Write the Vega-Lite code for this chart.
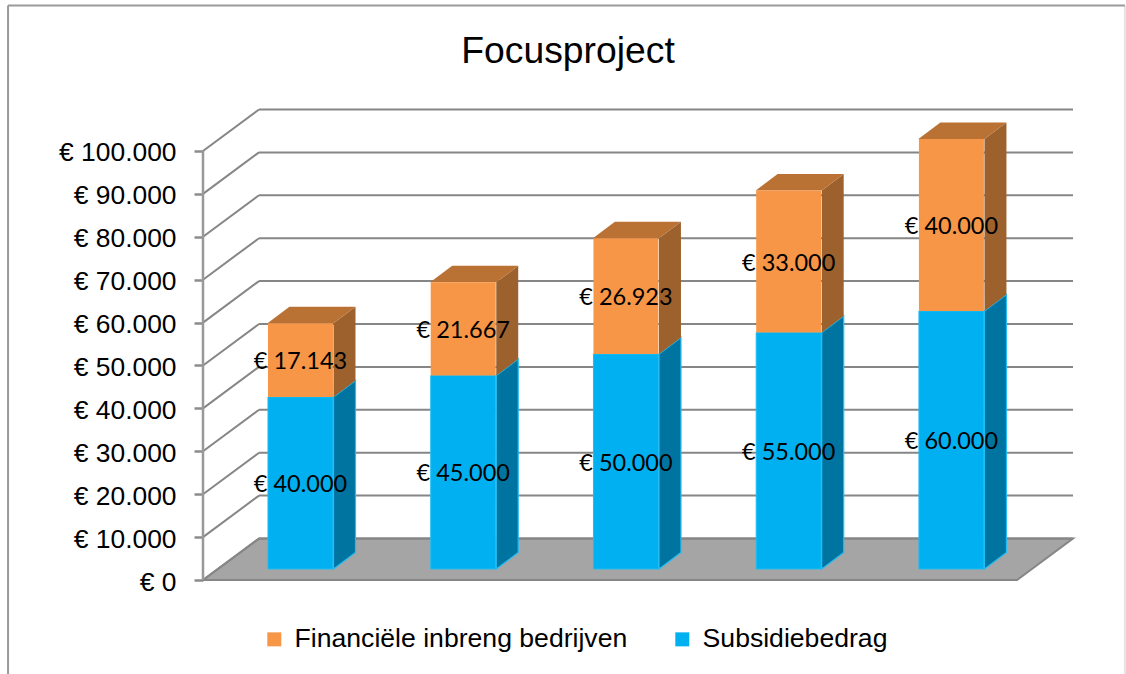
{
"$schema":"https://vega.github.io/schema/vega-lite/v6.json",
"width":870,"height":471,
"autosize":"none",
"padding":{"left":203,"top":109,"right":53,"bottom":94},
"background":"white",
"view":{"stroke":null},
"config":{"view":{"stroke":null},"font":"Liberation Sans"},
"title":{"text":"Focusproject","font":"Liberation Sans","fontSize":37.3,"fontWeight":"normal","color":"#000000","anchor":"middle","dx":-70,"offset":-67},
"datasets":{
"bars":[
{"slot":1,"series":"Subsidiebedrag","value":40000,"label":"€ 40.000"},
{"slot":2,"series":"Subsidiebedrag","value":45000,"label":"€ 45.000"},
{"slot":3,"series":"Subsidiebedrag","value":50000,"label":"€ 50.000"},
{"slot":4,"series":"Subsidiebedrag","value":55000,"label":"€ 55.000"},
{"slot":5,"series":"Subsidiebedrag","value":60000,"label":"€ 60.000"},
{"slot":1,"series":"Financiële inbreng bedrijven","value":17143,"label":"€ 17.143"},
{"slot":2,"series":"Financiële inbreng bedrijven","value":21667,"label":"€ 21.667"},
{"slot":3,"series":"Financiële inbreng bedrijven","value":26923,"label":"€ 26.923"},
{"slot":4,"series":"Financiële inbreng bedrijven","value":33000,"label":"€ 33.000"},
{"slot":5,"series":"Financiële inbreng bedrijven","value":40000,"label":"€ 40.000"}
],
"grid":[
{"v":0,"back":9674},{"v":10000,"back":19674},{"v":20000,"back":29674},{"v":30000,"back":39674},{"v":40000,"back":49674},{"v":50000,"back":59674},{"v":60000,"back":69674},{"v":70000,"back":79674},{"v":80000,"back":89674},{"v":90000,"back":99674},{"v":100000,"back":109674}
],
"floor":[{"y":0,"a":0.401,"b":5.403},{"y":9674,"a":0.745,"b":5.747}],
"sideBlue":[
{"slot":1,"x":1.203,"low":0,"high":40000},{"slot":1,"x":1.338,"low":3837,"high":43837},
{"slot":2,"x":2.203,"low":0,"high":45000},{"slot":2,"x":2.338,"low":3837,"high":48837},
{"slot":3,"x":3.203,"low":0,"high":50000},{"slot":3,"x":3.338,"low":3837,"high":53837},
{"slot":4,"x":4.203,"low":0,"high":55000},{"slot":4,"x":4.338,"low":3837,"high":58837},
{"slot":5,"x":5.203,"low":0,"high":60000},{"slot":5,"x":5.338,"low":3837,"high":63837}
],
"sideOrange":[
{"slot":1,"x":1.203,"low":40000,"high":57143},{"slot":1,"x":1.338,"low":43837,"high":60980},
{"slot":2,"x":2.203,"low":45000,"high":66667},{"slot":2,"x":2.338,"low":48837,"high":70504},
{"slot":3,"x":3.203,"low":50000,"high":76923},{"slot":3,"x":3.338,"low":53837,"high":80760},
{"slot":4,"x":4.203,"low":55000,"high":88000},{"slot":4,"x":4.338,"low":58837,"high":91837},
{"slot":5,"x":5.203,"low":60000,"high":100000},{"slot":5,"x":5.338,"low":63837,"high":103837}
],
"tops":[
{"slot":1,"y":57143,"a":0.797,"b":1.203},{"slot":1,"y":60980,"a":0.932,"b":1.338},
{"slot":2,"y":66667,"a":1.797,"b":2.203},{"slot":2,"y":70504,"a":1.932,"b":2.338},
{"slot":3,"y":76923,"a":2.797,"b":3.203},{"slot":3,"y":80760,"a":2.932,"b":3.338},
{"slot":4,"y":88000,"a":3.797,"b":4.203},{"slot":4,"y":91837,"a":3.932,"b":4.338},
{"slot":5,"y":100000,"a":4.797,"b":5.203},{"slot":5,"y":103837,"a":4.932,"b":5.338}
],
"frame":[{"x":-0.797,"x2":-0.797,"y":133916,"y2":-21911},{"x":-0.797,"x2":6.066,"y":133916,"y2":133916}],
"frameRight":[{"x":6.066,"x2":6.066,"y":133916,"y2":-21911}]
},
"resolve":{"scale":{"y":"independent"},"axis":{"y":"independent"}},
"layer":[
{"data":{"name":"frameRight"},"mark":{"type":"rule","strokeWidth":2,"stroke":"#e4e4e4"},
 "encoding":{"x":{"field":"x","type":"quantitative","scale":{"domain":[0.401,5.747],"nice":false,"zero":false,"padding":0},"axis":null},"x2":{"field":"x2"},
 "y":{"field":"y","type":"quantitative","scale":{"domain":[0,109790],"nice":false},"axis":null},"y2":{"field":"y2"}}},
{"data":{"name":"frame"},"mark":{"type":"rule","strokeWidth":2,"stroke":"#9a9a9a"},
 "encoding":{"x":{"field":"x","type":"quantitative","scale":{"domain":[0.401,5.747],"nice":false,"zero":false,"padding":0},"axis":null},"x2":{"field":"x2"},
 "y":{"field":"y","type":"quantitative","scale":{"domain":[0,109790],"nice":false},"axis":null},"y2":{"field":"y2"}}},
{"data":{"name":"floor"},"mark":{"type":"area","orient":"horizontal","fill":"#A5A5A5","stroke":"#868686","strokeWidth":2},
 "encoding":{"y":{"field":"y","type":"quantitative","stack":null,"scale":{"domain":[0,109790],"nice":false},"axis":null},
 "x":{"field":"a","type":"quantitative","scale":{"domain":[0.401,5.747],"nice":false,"zero":false,"padding":0},"axis":null},"x2":{"field":"b"}}},
{"data":{"name":"grid"},"mark":{"type":"rule","stroke":"#868686","strokeWidth":2},
 "encoding":{"x":{"datum":0.745,"type":"quantitative","scale":{"domain":[0.401,5.747],"nice":false,"zero":false,"padding":0},"axis":null},"x2":{"datum":5.747},
 "y":{"field":"back","type":"quantitative","scale":{"domain":[0,109790],"nice":false},"axis":null}}},
{"data":{"name":"grid"},"mark":{"type":"rule","stroke":"#868686","strokeWidth":2},
 "encoding":{"x":{"datum":0.401,"type":"quantitative","scale":{"domain":[0.401,5.747],"nice":false,"zero":false,"padding":0},"axis":null},"x2":{"datum":0.745},
 "y":{"field":"v","type":"quantitative","scale":{"domain":[0,109790],"nice":false},
  "axis":{"title":null,"orient":"left","domain":false,"grid":false,"values":[0,10000,20000,30000,40000,50000,60000,70000,80000,90000,100000],"tickSize":9,"tickWidth":2.5,"tickColor":"#8c8c8c","labelFont":"Liberation Sans","labelFontSize":26.4,"labelColor":"#000000","labelPadding":18,"labelOffset":2,"labelExpr":"'€ ' + replace(format(datum.value,',d'),',','.')"}},"y2":{"field":"back"}}},
{"data":{"values":[{"a":0,"b":100000}]},"mark":{"type":"rule","stroke":"#999999","strokeWidth":2.5},
 "encoding":{"x":{"datum":0.401,"type":"quantitative","scale":{"domain":[0.401,5.747],"nice":false,"zero":false,"padding":0},"axis":null},
 "y":{"field":"a","type":"quantitative","scale":{"domain":[0,109790],"nice":false},"axis":null},"y2":{"field":"b"}}},
{"data":{"name":"sideBlue"},"mark":{"type":"area","fill":"#0074A0","stroke":"#22BDF2","strokeWidth":1.2},
 "encoding":{"x":{"field":"x","type":"quantitative","scale":{"domain":[0.401,5.747],"nice":false,"zero":false,"padding":0},"axis":null},
 "y":{"field":"high","type":"quantitative","stack":null,"scale":{"domain":[0,100000],"range":[460,30],"nice":false},"axis":null},"y2":{"field":"low"},"detail":{"field":"slot"}}},
{"data":{"name":"sideOrange"},"mark":{"type":"area","fill":"#9C612D"},
 "encoding":{"x":{"field":"x","type":"quantitative","scale":{"domain":[0.401,5.747],"nice":false,"zero":false,"padding":0},"axis":null},
 "y":{"field":"high","type":"quantitative","stack":null,"scale":{"domain":[0,100000],"range":[460,30],"nice":false},"axis":null},"y2":{"field":"low"},"detail":{"field":"slot"}}},
{"data":{"name":"tops"},"mark":{"type":"area","orient":"horizontal","fill":"#BA7234"},
 "encoding":{"y":{"field":"y","type":"quantitative","stack":null,"scale":{"domain":[0,100000],"range":[460,30],"nice":false},"axis":null},
 "x":{"field":"a","type":"quantitative","scale":{"domain":[0.401,5.747],"nice":false,"zero":false,"padding":0},"axis":null},"x2":{"field":"b"},"detail":{"field":"slot"}}},
{"data":{"name":"bars"},"mark":{"type":"bar","width":65},
 "encoding":{"x":{"field":"slot","type":"quantitative","scale":{"domain":[0.401,5.747],"nice":false,"zero":false,"padding":0},"axis":null},
 "y":{"field":"value","type":"quantitative","stack":"zero","scale":{"domain":[0,100000],"range":[460,30],"nice":false},"axis":null},
 "stroke":{"condition":{"test":"datum.series === 'Subsidiebedrag'","value":"#22BDF2"},"value":"transparent"},
 "color":{"field":"series","type":"nominal","scale":{"domain":["Financiële inbreng bedrijven","Subsidiebedrag"],"range":["#F79646","#00B0F0"]},
  "legend":{"title":null,"orient":"none","direction":"horizontal","legendX":58,"legendY":517,"symbolType":"square","symbolSize":196,"symbolStrokeWidth":0,"labelFont":"Liberation Sans","labelFontSize":26.6,"labelColor":"#000000","labelOffset":7,"columnPadding":41,"labelLimit":500}}}},
{"data":{"name":"bars"},"mark":{"type":"text","font":"Lato","fontSize":23.5,"color":"#000000","dy":2},
 "encoding":{"x":{"field":"slot","type":"quantitative","scale":{"domain":[0.401,5.747],"nice":false,"zero":false,"padding":0},"axis":null},
 "y":{"field":"value","type":"quantitative","stack":"zero","bandPosition":0.5,"scale":{"domain":[0,100000],"range":[460,30],"nice":false},"axis":null},
 "text":{"field":"label"},"detail":{"field":"series"}}}
]
}
